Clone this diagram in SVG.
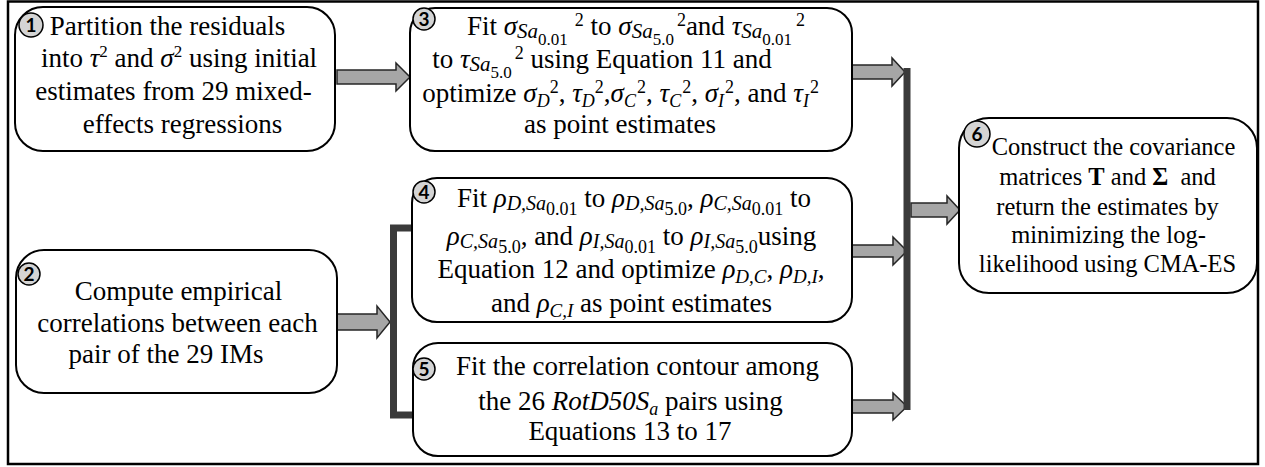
<svg xmlns="http://www.w3.org/2000/svg" width="1265" height="467" viewBox="0 0 1265 467">
<style>
.t{font-family:"Liberation Serif","Times New Roman",serif;font-size:27px;fill:#000;text-anchor:middle}
.t6{font-size:24.5px}
.i{font-style:italic}
.b{font-weight:bold}
.node{fill:#fff;stroke:#000;stroke-width:2}
.badge{fill:#d4d4d4;stroke:#000;stroke-width:1.5}
.bn{font-family:Lato,"Open Sans","Liberation Sans",sans-serif;font-weight:bold;font-size:19px;text-anchor:middle;fill:#000}
.arrow{fill:#a6a6a6;stroke:#262626;stroke-width:1.5;stroke-linejoin:miter}
.bar{fill:none;stroke:#3a3a3a;stroke-width:7;stroke-linejoin:miter}
</style>
<rect x="0" y="0" width="1265" height="467" fill="#fff"/>
<rect x="8" y="1.5" width="1250" height="462.5" fill="none" stroke="#000" stroke-width="2.5"/>

<g id="connectors">
<polygon class="arrow" points="337,70 396,70 396,63 410,77 396,91 396,84 337,84"/>
<polygon class="arrow" points="337,314 377,314 377,306 390,322 377,338 377,330 337,330"/>
<polygon class="arrow" points="852,65 892,65 892,58 905,72 892,86 892,79 852,79"/>
<polygon class="arrow" points="852,245 893,245 893,237 907,251 893,265 893,257 852,257"/>
<polygon class="arrow" points="852,400 893,400 893,393 907,406.5 893,420 893,413 852,413"/>
<polygon class="arrow" points="911,203 947,203 947,196 960,210 947,224 947,217 911,217"/>
<path class="bar" d="M412,228 H393.5 V415 H413"/>
<path class="bar" stroke-width="8" d="M907,68 V410"/>
</g>

<g id="node1">
<rect class="node" x="15" y="7" width="320" height="144" rx="28"/>
<circle class="badge" cx="31" cy="25" r="12"/>
<text class="bn" x="31" y="32">1</text>
<text class="t" x="167.5" y="35">Partition the residuals</text>
<text class="t" x="179" y="67">into <tspan class="i">τ</tspan><tspan font-size="17" dy="-10">2</tspan><tspan dy="10"> and </tspan><tspan class="i">σ</tspan><tspan font-size="17" dy="-10">2</tspan><tspan dy="10"> using initial</tspan></text>
<text class="t" x="173.5" y="100">estimates from 29 mixed-</text>
<text class="t" x="182.5" y="133">effects regressions</text>
</g>

<g id="node2">
<rect class="node" x="16" y="250" width="321" height="143" rx="28"/>
<circle class="badge" cx="29" cy="274" r="11"/>
<text class="bn" x="29" y="281">2</text>
<text class="t" x="178.5" y="300">Compute empirical</text>
<text class="t" x="177.5" y="332">correlations between each</text>
<text class="t" x="166" y="363">pair of the 29 IMs</text>
</g>

<g id="node3">
<rect class="node" x="410" y="8" width="442" height="143" rx="25"/>
<circle class="badge" cx="424" cy="19" r="11"/>
<text class="bn" x="424" y="26">3</text>
<text class="t" x="636" y="35">Fit <tspan class="i">σ</tspan><tspan class="i" font-size="21" dy="3">Sa</tspan><tspan font-size="17" dy="7">0.01</tspan><tspan font-size="18" dy="-19" dx="7">2</tspan><tspan dy="9"> to </tspan><tspan class="i">σ</tspan><tspan class="i" font-size="21" dy="3">Sa</tspan><tspan font-size="17" dy="7">5.0</tspan><tspan font-size="18" dy="-19" dx="3">2</tspan><tspan dy="9">and </tspan><tspan class="i">τ</tspan><tspan class="i" font-size="21" dy="3">Sa</tspan><tspan font-size="17" dy="7">0.01</tspan><tspan font-size="18" dy="-19" dx="4">2</tspan></text>
<text class="t" x="602" y="68">to <tspan class="i">τ</tspan><tspan class="i" font-size="21" dy="3">Sa</tspan><tspan font-size="17" dy="7">5.0</tspan><tspan font-size="18" dy="-19" dx="3">2</tspan><tspan dy="9"> using Equation 11 and</tspan></text>
<text class="t" x="620.5" y="102">optimize <tspan class="i">σ</tspan><tspan class="i" font-size="18" dy="5">D</tspan><tspan font-size="18" dy="-14" dx="0">2</tspan><tspan dy="9">, </tspan><tspan class="i">τ</tspan><tspan class="i" font-size="18" dy="5">D</tspan><tspan font-size="18" dy="-14" dx="0">2</tspan><tspan dy="9">,</tspan><tspan class="i">σ</tspan><tspan class="i" font-size="18" dy="5">C</tspan><tspan font-size="18" dy="-14" dx="1">2</tspan><tspan dy="9">, </tspan><tspan class="i">τ</tspan><tspan class="i" font-size="18" dy="5">C</tspan><tspan font-size="18" dy="-14" dx="1">2</tspan><tspan dy="9">, </tspan><tspan class="i">σ</tspan><tspan class="i" font-size="18" dy="5">I</tspan><tspan font-size="18" dy="-14" dx="1">2</tspan><tspan dy="9">, and </tspan><tspan class="i">τ</tspan><tspan class="i" font-size="18" dy="5">I</tspan><tspan font-size="18" dy="-14" dx="1">2</tspan></text>
<text class="t" x="620" y="133">as point estimates</text>
</g>

<g id="node4">
<rect class="node" x="412" y="178" width="440" height="144" rx="25"/>
<circle class="badge" cx="424" cy="192" r="11"/>
<text class="bn" x="424" y="199">4</text>
<text class="t" x="634" y="207">Fit <tspan class="i">ρ</tspan><tspan class="i" font-size="20" dy="3">D,Sa</tspan><tspan font-size="18" dy="5">0.01</tspan><tspan dy="-8"> to </tspan><tspan class="i">ρ</tspan><tspan class="i" font-size="20" dy="3">D,Sa</tspan><tspan font-size="18" dy="5">5.0</tspan><tspan dy="-8">, </tspan><tspan class="i">ρ</tspan><tspan class="i" font-size="20" dy="3">C,Sa</tspan><tspan font-size="18" dy="5">0.01</tspan><tspan dy="-8"> to</tspan></text>
<text class="t" x="631.5" y="245"><tspan class="i">ρ</tspan><tspan class="i" font-size="20" dy="3">C,Sa</tspan><tspan font-size="18" dy="5">5.0</tspan><tspan dy="-8">, and </tspan><tspan class="i">ρ</tspan><tspan class="i" font-size="20" dy="3">I,Sa</tspan><tspan font-size="18" dy="5">0.01</tspan><tspan dy="-8"> to </tspan><tspan class="i">ρ</tspan><tspan class="i" font-size="20" dy="3">I,Sa</tspan><tspan font-size="18" dy="5">5.0</tspan><tspan dy="-8">using</tspan></text>
<text class="t" x="631" y="278">Equation 12 and optimize <tspan class="i">ρ</tspan><tspan class="i" font-size="19" dy="5">D,C</tspan><tspan dy="-5">, </tspan><tspan class="i">ρ</tspan><tspan class="i" font-size="19" dy="5">D,I</tspan><tspan dy="-5">,</tspan></text>
<text class="t" x="631.5" y="312">and <tspan class="i">ρ</tspan><tspan class="i" font-size="19" dy="5">C,I</tspan><tspan dy="-5"> as point estimates</tspan></text>
</g>

<g id="node5">
<rect class="node" x="413" y="343" width="439" height="113" rx="25"/>
<circle class="badge" cx="424" cy="369" r="11"/>
<text class="bn" x="424" y="376">5</text>
<text class="t" x="637.5" y="375">Fit the correlation contour among</text>
<text class="t" x="630.5" y="410">the 26 <tspan class="i">RotD50S</tspan><tspan class="i" font-size="18" dy="5">a</tspan><tspan dy="-5"> pairs using</tspan></text>
<text class="t" x="630" y="440">Equations 13 to 17</text>
</g>

<g id="node6">
<rect class="node" x="959" y="118" width="298" height="175" rx="30"/>
<circle class="badge" cx="977" cy="134" r="13"/>
<text class="bn" x="977" y="141">6</text>
<text class="t t6" x="1113.5" y="155">Construct the covariance</text>
<text class="t t6" x="1107.5" y="185">matrices <tspan class="b">T</tspan> and <tspan class="b">Σ</tspan><tspan dx="6"> and</tspan></text>
<text class="t t6" x="1107.5" y="215">return the estimates by</text>
<text class="t t6" x="1108.5" y="243">minimizing the log-</text>
<text class="t t6" x="1107.5" y="272">likelihood using CMA-ES</text>
</g>
</svg>
